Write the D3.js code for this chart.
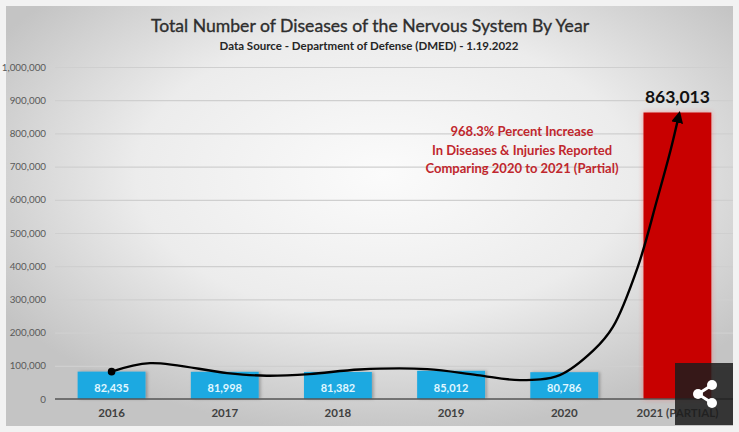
<!DOCTYPE html>
<html><head><meta charset="utf-8">
<script src="https://cdn.jsdelivr.net/npm/d3@7"></script>
<style>html,body{margin:0;padding:0;background:#f2f2f2;}svg{display:block;}</style>
</head><body>
<svg id="c" width="739" height="432"></svg>
<script>
// ---- data ----
const categories = ["2016","2017","2018","2019","2020","2021 (PARTIAL)"];
const values = [82435, 81998, 81382, 85012, 80786, 863013];
const valueLabels = ["82,435","81,998","81,382","85,012","80,786","863,013"];
const yTicks = [0,100000,200000,300000,400000,500000,600000,700000,800000,900000,1000000];
// trend curve: position in category units, value
const curveIdx = [0, 0.34, 1.02, 1.37, 1.75, 2.19, 2.79, 3.23, 3.61, 3.96, 4.26, 4.43, 4.65, 4.82, 4.94, 5.01];
const curveVal = [82435, 108000, 78000, 70000, 75000, 89000, 90000, 72000, 57000, 72000, 147000, 217000, 398000, 600000, 750000, 850000];
const title = "Total Number of Diseases of the Nervous System By Year";
const subtitle = "Data Source - Department of Defense (DMED) - 1.19.2022";
const annotation = ["968.3% Percent Increase","In Diseases & Injuries Reported","Comparing 2020 to 2021 (Partial)"];

const svg = d3.select("#c");
const defs = svg.append("defs");
const rg = defs.append("radialGradient").attr("id","bg").attr("cx","52%").attr("cy","40%").attr("r","62%");
rg.append("stop").attr("offset","0%").attr("stop-color","#fbfbfb");
rg.append("stop").attr("offset","55%").attr("stop-color","#ececec");
rg.append("stop").attr("offset","100%").attr("stop-color","#c4c4c4");
const glow = defs.append("filter").attr("id","glow").attr("x","-20%").attr("y","-20%").attr("width","140%").attr("height","140%");
glow.append("feGaussianBlur").attr("in","SourceAlpha").attr("stdDeviation",2.5).attr("result","b");
glow.append("feFlood").attr("flood-color","#ff4040").attr("flood-opacity",0.45);
glow.append("feComposite").attr("in2","b").attr("operator","in").attr("result","g");
const gm = glow.append("feMerge"); gm.append("feMergeNode").attr("in","g"); gm.append("feMergeNode").attr("in","SourceGraphic");
const sh = defs.append("filter").attr("id","sh").attr("x","-20%").attr("y","-20%").attr("width","140%").attr("height","140%");
sh.append("feDropShadow").attr("dx",2).attr("dy",0).attr("stdDeviation",1.5).attr("flood-color","#000").attr("flood-opacity",0.25);
defs.append("marker").attr("id","arr").attr("viewBox","0 0 10 10").attr("refX",5).attr("refY",5)
  .attr("markerWidth",5).attr("markerHeight",5).attr("orient","auto")
  .append("path").attr("d","M0,0L10,5L0,10z").attr("fill","#000");

svg.append("rect").attr("x",6).attr("y",6).attr("width",727).attr("height",420).attr("fill","url(#bg)");

const x = d3.scaleBand().domain(categories).range([55,734]).paddingInner(0.4).paddingOuter(0.2);
const y = d3.scaleLinear().domain([0,1000000]).range([399,67]);
const xi = d3.scaleLinear().domain([0,1]).range([x(categories[0])+x.bandwidth()/2, x(categories[1])+x.bandwidth()/2]);

const font = "Lato, 'Open Sans', sans-serif";

// gridlines
const yAxis = d3.axisLeft(y).tickValues(yTicks).tickFormat(d3.format(",")).tickSize(0).tickPadding(9);
const gy = svg.append("g").attr("transform","translate(55,0)").call(yAxis);
gy.select(".domain").remove();
gy.selectAll("text").attr("font-family","'Liberation Sans Narrow', Lato, sans-serif").attr("font-size",9.8).attr("fill","#595959");
svg.append("g").selectAll("line").data(yTicks.filter(d=>d>0)).join("line")
  .attr("x1",55).attr("x2",733).attr("y1",d=>y(d)+0.5).attr("y2",d=>y(d)+0.5)
  .attr("stroke","#cfcfcf").attr("stroke-width",1.2);

// bars
svg.append("g").selectAll("rect").data(values).join("rect")
  .attr("x",(d,i)=>x(categories[i])).attr("width",x.bandwidth())
  .attr("y",d=>y(d)).attr("height",d=>y(0)-y(d))
  .attr("fill",(d,i)=>i===5?"#c80000":"#1ea9e1")
  .attr("filter",(d,i)=>i===5?"url(#glow)":"url(#sh)");

// baseline
svg.append("line").attr("x1",55).attr("x2",733).attr("y1",y(0)).attr("y2",y(0)).attr("stroke","#555").attr("stroke-width",1.6);

// x labels
const xAxis = d3.axisBottom(x).tickSize(0).tickPadding(10);
const gx = svg.append("g").attr("transform",`translate(0,${y(0)})`).call(xAxis);
gx.select(".domain").remove();
gx.selectAll("text").attr("font-family",font).attr("font-weight","bold").attr("font-size",11.5).attr("fill","#404040");

// value labels
svg.append("g").selectAll("text").data(values.slice(0,5)).join("text")
  .attr("x",(d,i)=>x(categories[i])+x.bandwidth()/2).attr("y",392)
  .attr("text-anchor","middle").attr("font-family",font).attr("font-weight","bold").attr("font-size",11)
  .attr("fill","#e0f7ff").text((d,i)=>valueLabels[i]);
svg.append("text").attr("x",x(categories[5])+x.bandwidth()/2).attr("y",y(values[5])-9)
  .attr("text-anchor","middle").attr("font-family",font).attr("font-weight","bold").attr("font-size",17.5)
  .attr("fill","#111").text(valueLabels[5]);

// curve
const line = d3.line().x(d=>xi(d[0])).y(d=>y(d[1])).curve(d3.curveCatmullRom.alpha(0.5));
svg.append("path").datum(curveIdx.map((d,i)=>[d,curveVal[i]]))
  .attr("d",line).attr("fill","none").attr("stroke","#000").attr("stroke-width",2.4)
  .attr("marker-end","url(#arr)");
svg.append("circle").attr("cx",xi(curveIdx[0])).attr("cy",y(curveVal[0])).attr("r",3.8).attr("fill","#000");

// titles
svg.append("text").attr("x",370).attr("y",32).attr("text-anchor","middle").attr("font-family",font)
  .attr("font-size",17.6).attr("fill","#2e2e2e").attr("stroke","#2e2e2e").attr("stroke-width",0.35).text(title);
svg.append("text").attr("x",369).attr("y",50).attr("text-anchor","middle").attr("font-family",font)
  .attr("font-weight","bold").attr("font-size",11.5).attr("fill","#262626").text(subtitle);

// annotation
svg.append("g").selectAll("text").data(annotation).join("text")
  .attr("x",522).attr("y",(d,i)=>136+i*18.5).attr("text-anchor","middle").attr("font-family",font)
  .attr("font-weight","bold").attr("font-size",13).attr("fill","#c0272d").text(d=>d);

// share overlay
const sg = svg.append("g");
sg.append("rect").attr("x",675).attr("y",363).attr("width",58).attr("height",62).attr("fill","#1c1c1c").attr("opacity",0.85);
const pts = [[712,385],[698,394],[712,403]];
sg.append("path").attr("d",`M${pts[0]}L${pts[1]}L${pts[2]}`).attr("stroke","#fff").attr("stroke-width",3).attr("fill","none");
sg.selectAll("circle").data(pts).join("circle").attr("cx",d=>d[0]).attr("cy",d=>d[1]).attr("r",5).attr("fill","#fff");
</script>
</body></html>
